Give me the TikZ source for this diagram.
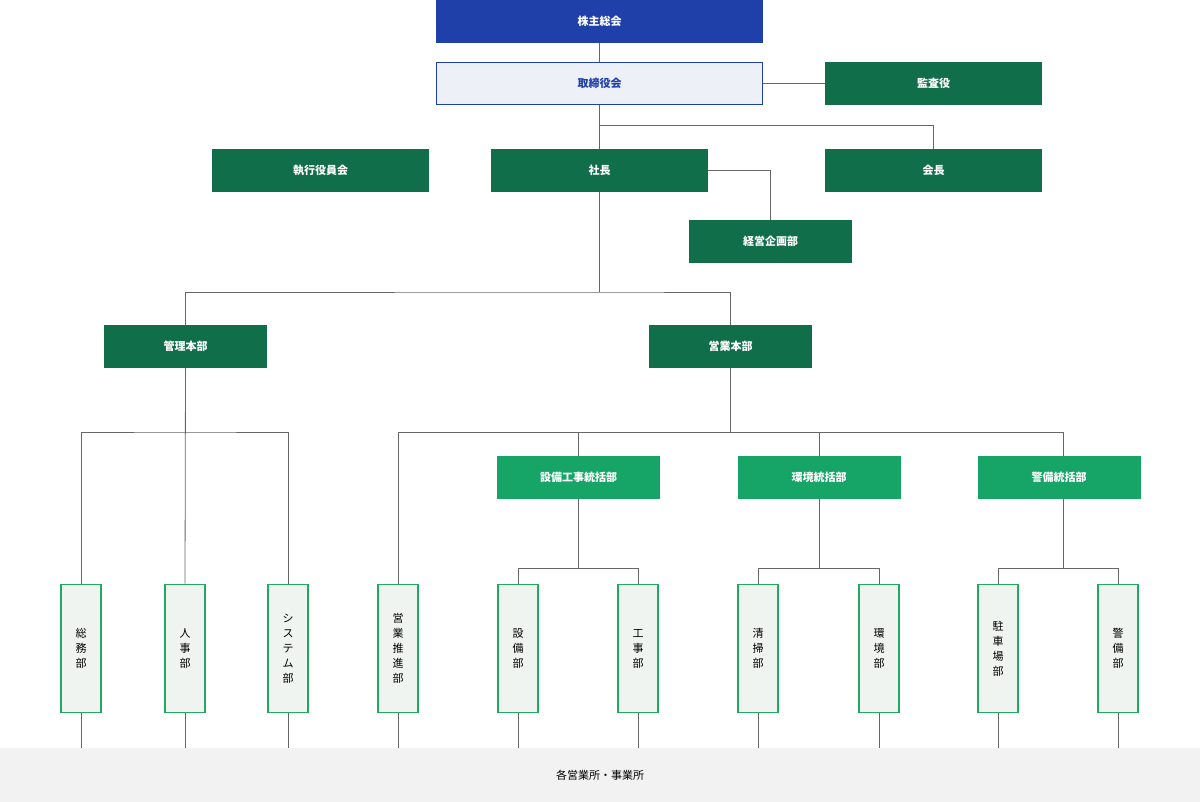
\documentclass[tikz,border=0pt]{standalone}
\usepackage{fontspec}
\setmainfont{Noto Sans CJK JP}
\begin{document}
\begin{tikzpicture}[x=1pt,y=-1pt,
 ln/.style={draw=gray!80!black,line width=0.8pt},
 dg/.style={fill={rgb,255:red,17;green,110;blue,74},text=white,font=\bfseries\fontsize{11}{13}\selectfont,minimum height=43pt,inner sep=0pt},
 lg/.style={fill={rgb,255:red,22;green,165;blue,103},text=white,font=\bfseries\fontsize{11}{13}\selectfont,minimum width=163pt,minimum height=43pt,inner sep=0pt},
 vb/.style={fill={rgb,255:red,240;green,244;blue,241},draw={rgb,255:red,34;green,168;blue,96},line width=1.8pt,minimum width=40pt,minimum height=128pt,inner sep=0pt,align=center,font=\fontsize{11}{15}\selectfont}]
\useasboundingbox (0,0) rectangle (1200,802);
\fill[gray!10] (0,748) rectangle (1200,802);
\node[font=\fontsize{11}{13}\selectfont] (bot) at (600,775) {各営業所・事業所};
\node[fill={rgb,255:red,31;green,64;blue,168},text=white,font=\bfseries\fontsize{11}{13}\selectfont,minimum width=327pt,minimum height=43pt,inner sep=0pt] (kabu) at (599.5,21.5) {株主総会};
\node[fill={rgb,255:red,238;green,240;blue,248},draw={rgb,255:red,31;green,64;blue,168},text={rgb,255:red,31;green,64;blue,168},font=\bfseries\fontsize{11}{13}\selectfont,minimum width=326pt,minimum height=42pt,inner sep=0pt,line width=0.8pt] (tori) at (599.5,83.5) {取締役会};
\node[dg,minimum width=217pt] (kansa) at (933.5,83.5) {監査役};
\node[dg,minimum width=217pt] (shikko) at (320.5,170.5) {執行役員会};
\node[dg,minimum width=217pt] (shacho) at (599.5,170.5) {社長};
\node[dg,minimum width=217pt] (kaicho) at (933.5,170.5) {会長};
\node[dg,minimum width=163pt] (keiei) at (770.5,241.5) {経営企画部};
\node[dg,minimum width=163pt] (kanri) at (185.5,346.5) {管理本部};
\node[dg,minimum width=163pt] (eigyo) at (730.5,346.5) {営業本部};
\node[lg] (setsu) at (578.5,477.5) {設備工事統括部};
\node[lg] (kank) at (819,477.5) {環境統括部};
\node[lg] (keibi) at (1059,477.5) {警備統括部};
\foreach \n/\x/\t in {a/81/総\\務\\部,b/185/人\\事\\部,c/288/シ\\ス\\テ\\ム\\部,d/398/営\\業\\推\\進\\部,e/518/設\\備\\部,f/638/工\\事\\部,g/758/清\\掃\\部,h/879/環\\境\\部,i/998/駐\\車\\場\\部,j/1118/警\\備\\部}{
 \node[vb] (\n) at (\x,648.5) {\t};
 \draw[ln] (\n.south) -- (\x,748);
}
\draw[ln] (kabu) -- (tori);
\draw[ln] (tori) -- (kansa);
\draw[ln] (tori.south) -- (shacho.north);
\draw[ln] (599.5,125) -| (kaicho.north);
\draw[ln] (shacho.east) -| (keiei.north);
\draw[ln] (shacho.south) -- (599.5,292);
\draw[ln] (kanri.north) |- (599.5,292) -| (eigyo.north);
\draw[ln] (kanri.south) -- (b.north);
\draw[ln] (a.north) |- (185.5,432) -| (c.north);
\draw[ln] (eigyo.south) -- (730.5,432);
\draw[ln] (d.north) |- (1063,432) -- (keibi.north -| 1063,0);
\draw[ln] (578.5,432) -- (setsu.north);
\draw[ln] (819,432) -- (kank.north);
\draw[ln] (1063,432) -- (1063,456);
\draw[ln] (setsu.south) -- (578.5,568);
\draw[ln] (e.north) |- (638,568) -- (f.north);
\draw[ln] (kank.south) -- (819,568);
\draw[ln] (g.north) |- (879,568) -- (h.north);
\draw[ln] (1063,499) -- (1063,568);
\draw[ln] (i.north) |- (1118,568) -- (j.north);
\end{tikzpicture}
\end{document}
